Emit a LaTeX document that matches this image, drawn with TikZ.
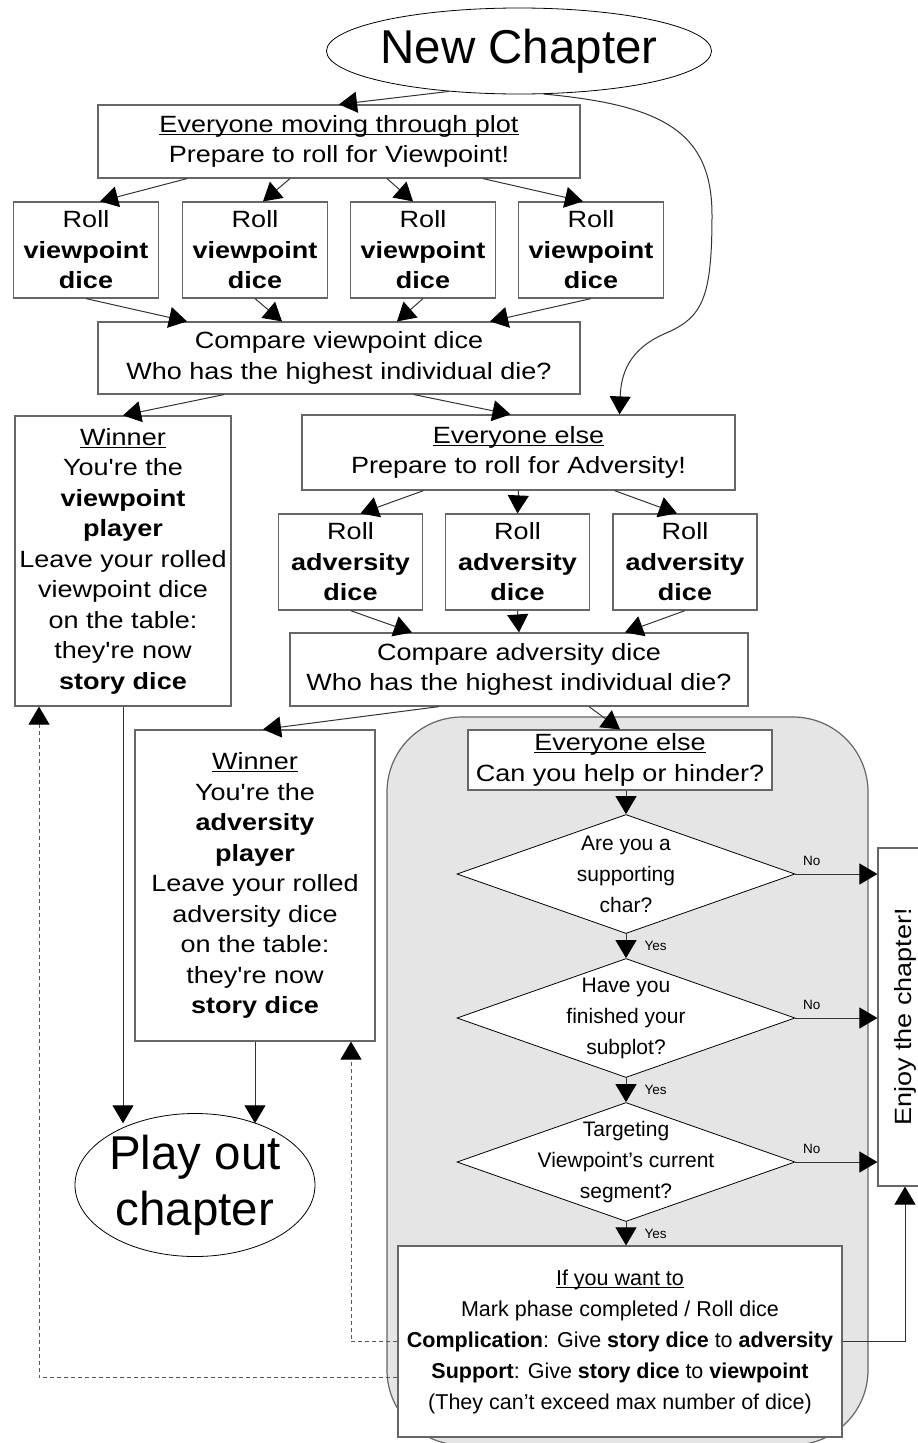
\documentclass[tikz,border=0pt]{standalone}
\usepackage{fontspec}
\setmainfont{Liberation Sans}
\newfontfamily\boxfont[FakeStretch=1.15]{Liberation Sans}
\usetikzlibrary{shapes}
\usetikzlibrary{arrows.meta}
\usetikzlibrary{calc}
\usetikzlibrary{positioning}
\newlength{\ulwd}
\newcommand{\uln}[1]{\settowidth{\ulwd}{#1}\rlap{\rule[-2.6pt]{\ulwd}{1.1pt}}#1}
\tikzset{box/.style={rectangle, draw=black!60, line width=1.2pt, fill=white, align=center, inner sep=0pt, font=\boxfont\fontsize{23.5}{30.5}\selectfont}}
\tikzset{rollbox/.style={box, minimum width=145pt, minimum height=96pt}}
\tikzset{startstop/.style={ellipse, draw, line width=0.8pt, fill=white, align=center, inner xsep=-4pt, inner ysep=-6pt, font=\fontsize{47.5}{56}\selectfont}}
\tikzset{decision/.style={diamond, draw, line width=0.8pt, fill=white, minimum width=338pt, minimum height=119pt, inner sep=0pt}}
\tikzset{dlabel/.style={align=center, inner sep=0pt, font=\fontsize{21}{31}\selectfont}}
\tikzset{region/.style={draw=black!60, line width=1.2pt, fill=black!10, rounded corners=75pt}}
\tikzset{conn/.style={draw=black!80, line width=1pt, -{Triangle[length=18pt,width=21pt,color=black]}}}
\tikzset{dashconn/.style={conn, dash pattern=on 4pt off 3pt, draw=black!65}}
\tikzset{yeslab/.style={font=\fontsize{13.5}{15}\selectfont, anchor=west, xshift=18pt, inner sep=0pt}}
\tikzset{nolab/.style={font=\fontsize{13.5}{15}\selectfont, pos=0.2, above=8pt, inner sep=0pt}}

\begin{document}
\begin{tikzpicture}[x=1pt,y=-1pt]
  \useasboundingbox (0,0) rectangle (918,1443);
  \clip (0,0) rectangle (918,1443);
  % help or hinder phase
  \draw[region] (387,717) rectangle (868,1445);

  \node[startstop, minimum width=385pt, minimum height=86pt] (newch) at (519,51) {New Chapter};
  \node[box, minimum width=482pt, minimum height=73pt] (plot) at (339,141.5)
    {\uln{Everyone moving through plot}\\Prepare to roll for Viewpoint!};
  \foreach \x/\lab in {86/rv1, 255/rv2, 423/rv3, 591/rv4} {
    \node[rollbox] (\lab) at (\x,250) {Roll\\\textbf{viewpoint}\\\textbf{dice}};
  }
  \node[box, minimum width=482pt, minimum height=72pt] (cmpv) at (339,358)
    {Compare viewpoint dice\\Who has the highest individual die?};
  \node[box, minimum width=216pt, minimum height=290pt] (winv) at (123,561)
    {\uln{Winner}\\You're the\\\textbf{viewpoint}\\\textbf{player}\\Leave your rolled\\viewpoint dice\\on the table:\\they're now\\\textbf{story dice}};
  \node[box, minimum width=433pt, minimum height=75pt] (advp) at (518.5,452.5)
    {\uln{Everyone else}\\Prepare to roll for Adversity!};
  \foreach \x/\lab in {350.5/ra1, 517.5/ra2, 685/ra3} {
    \node[rollbox, minimum width=144pt] (\lab) at (\x,562) {Roll\\\textbf{adversity}\\\textbf{dice}};
  }
  \node[box, minimum width=458pt, minimum height=73pt] (cmpa) at (519,669.5)
    {Compare adversity dice\\Who has the highest individual die?};
  \node[box, minimum width=240pt, minimum height=311pt] (winA) at (255,885.5)
    {\uln{Winner}\\You're the\\\textbf{adversity}\\\textbf{player}\\Leave your rolled\\adversity dice\\on the table:\\they're now\\\textbf{story dice}};
  \node[startstop, minimum width=240pt, minimum height=143pt] (play) at (195,1185) {Play out\\chapter};

  \node[box, minimum width=304pt, minimum height=60pt] (help) at (620,760)
    {\uln{Everyone else}\\Can you help or hinder?};
  \node[decision, label={[dlabel]center:Are you a\\supporting\\char?}] (d1) at (626,874) {};
  \node[decision, label={[dlabel]center:Have you\\finished your\\subplot?}] (d2) at (626,1018) {};
  \node[decision, label={[dlabel]center:Targeting\\Viewpoint's current\\segment?}] (d3) at (626,1162) {};
  \node[box, minimum width=444pt, minimum height=191pt, font=\fontsize{21.5}{31}\selectfont] (final) at (620,1341.5)
    {\uln{If you want to}\\Mark phase completed / Roll dice\\\textbf{Complication}: Give \textbf{story dice} to \textbf{adversity}\\\textbf{Support}: Give \textbf{story dice} to \textbf{viewpoint}\\(They can't exceed max number of dice)};
  \node[box, minimum width=338pt, minimum height=54pt, rotate=90] (enjoy) at (905,1017) {Enjoy the chapter!};

  \foreach \u/\us/\v/\vs in {
    newch.210/0/plot.north/0,
    plot.south/-152/rv1.north/14,
    plot.south/-49/rv2.north/8,
    plot.south/48/rv3.north/-10,
    plot.south/144/rv4.north/-8,
    rv1.south/0/cmpv.north/-152,
    rv2.south/0/cmpv.north/-57,
    rv3.south/0/cmpv.north/58,
    rv4.south/0/cmpv.north/151,
    cmpv.south/-115/winv.north/0,
    cmpv.south/75/advp.north/-8,
    advp.south/-95/ra1.north/10,
    advp.south/0/ra2.north/0,
    advp.south/96/ra3.north/-8,
    ra1.south/0/cmpa.north/-107,
    ra2.south/0/cmpa.north/0,
    ra3.south/0/cmpa.north/106,
    cmpa.south/-80/winA.north/8,
    cmpa.south/70/help.north/0,
    help.south/6/d1.north/0%
  }{
    \draw[conn] ([xshift=\us pt]\u) -- ([xshift=\vs pt]\v);
  }
  \draw[conn] (newch.300) .. controls (660,105) and (712,130) .. (712,215)
    .. controls (712,300) and (702,318) .. (664,334)
    .. controls (628,350) and (621,375) .. ([xshift=101pt]advp.north);
  \draw[conn] (winv.south) -- (winv.south |- play.135);
  \draw[conn] (winA.south) -- (winA.south |- play.45);

  % decisions
  \foreach \u/\v in {d1/d2, d2/d3} {
    \draw[conn] (\u.south) -- node[yeslab] {Yes} (\v.north);
  }
  \draw[conn] (d3.south) -- node[yeslab] {Yes} (d3.south |- final.north);
  \foreach \u in {d1, d2, d3} {
    \draw[conn] (\u.east) -- node[nolab] {No} (\u.east -| enjoy.north);
  }
  \draw[conn] (final.east) -| (enjoy.west);
  \draw[dashconn] (final.west) -| ([xshift=96pt]winA.south);
  \draw[dashconn] ([yshift=-36pt]final.west) -| ([xshift=-84pt]winv.south);
\end{tikzpicture}
\end{document}
